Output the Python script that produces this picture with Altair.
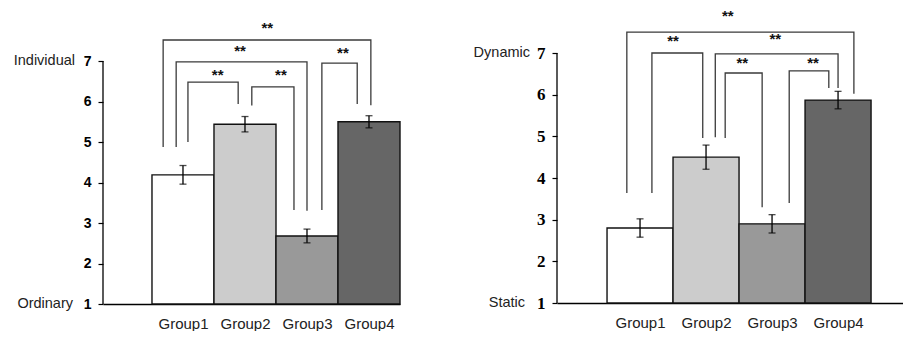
import altair as alt
import pandas as pd

groups = ["Group1", "Group2", "Group3", "Group4"]
positions = [1, 2, 3, 4]
colors = ["#ffffff", "#cccccc", "#999999", "#666666"]

left_means = [4.19, 5.44, 2.68, 5.50]
left_err = [0.23, 0.19, 0.17, 0.15]
right_means = [2.80, 4.50, 2.90, 5.87]
right_err = [0.22, 0.29, 0.22, 0.21]

# brackets: x_left, x_right, y_top, y_left_bottom, y_right_bottom, star_x, star_y
left_brackets = [
    [1.08, 1.89, 6.48, 5.00, 5.94, 1.56, 6.70],
    [2.11, 2.79, 6.36, 5.90, 3.32, 2.58, 6.70],
    [0.89, 3.00, 6.98, 4.88, 3.30, 1.92, 7.30],
    [3.24, 3.81, 6.95, 3.32, 5.94, 3.58, 7.25],
    [0.68, 4.03, 7.52, 4.88, 5.91, 2.36, 7.86],
]
right_brackets = [
    [1.18, 1.95, 7.00, 3.64, 4.96, 1.50, 7.34],
    [2.14, 4.00, 6.98, 4.98, 6.16, 3.05, 7.38],
    [2.29, 2.85, 6.52, 4.96, 3.30, 2.55, 6.81],
    [3.26, 3.86, 6.57, 3.40, 6.16, 3.62, 6.81],
    [0.80, 4.24, 7.50, 3.64, 6.02, 2.33, 7.94],
]

y_ticks = [1, 2, 3, 4, 5, 6, 7]


def panel(means, errs, xdom, ydom, width, height, brackets, labels, label_dx,
          tick_font, tick_size):
    xs = alt.Scale(domain=xdom, nice=False, zero=False)
    ys = alt.Scale(domain=ydom, nice=False, zero=False)
    df = pd.DataFrame({"group": groups, "pos": positions, "mean": means, "err": errs})
    base = alt.Chart(df).transform_calculate(
        x1="datum.pos - 0.5", x2="datum.pos + 0.5",
        lo="datum.mean - datum.err", hi="datum.mean + datum.err", b="1")
    label_expr = "[" + ",".join("'%s'" % g for g in groups) + "][datum.value - 1]"
    bars = base.mark_rect(stroke="#111", strokeWidth=1.4).encode(
        x=alt.X("x1:Q", scale=xs, title=None,
                axis=alt.Axis(values=positions, labelExpr=label_expr, ticks=False,
                              grid=False, domainColor="black", domainWidth=1.3,
                              labelFont="Liberation Sans", labelFontSize=15,
                              labelColor="#222", labelPadding=12)),
        x2="x2:Q",
        y=alt.Y("b:Q", scale=ys, title=None,
                axis=alt.Axis(values=y_ticks, grid=False, domain=False,
                              tickColor="black", tickSize=5, tickWidth=1.2,
                              labelFont=tick_font, labelFontWeight="bold",
                              labelFontSize=tick_size, labelColor="#000",
                              labelPadding=7)),
        y2="mean:Q",
        fill=alt.Fill("group:N", scale=alt.Scale(domain=groups, range=colors), legend=None),
    )
    stem = base.mark_rule(color="black", strokeWidth=1.3).encode(
        x=alt.X("pos:Q", scale=xs), y=alt.Y("lo:Q", scale=ys), y2="hi:Q")
    cap_lo = base.mark_tick(color="black", orient="horizontal", size=7, thickness=1.3).encode(
        x=alt.X("pos:Q", scale=xs), y=alt.Y("lo:Q", scale=ys))
    cap_hi = base.mark_tick(color="black", orient="horizontal", size=7, thickness=1.3).encode(
        x=alt.X("pos:Q", scale=xs), y=alt.Y("hi:Q", scale=ys))

    rows = []
    stars = []
    for i, (xl, xr, top, yl, yr, sx, sy) in enumerate(brackets):
        for k, (px, py) in enumerate([(xl, yl), (xl, top), (xr, top), (xr, yr)]):
            rows.append({"id": i, "k": k, "x": px, "y": py})
        stars.append({"x": sx, "y": sy, "t": "**"})
    br = alt.Chart(pd.DataFrame(rows)).mark_line(color="#3a3a3a", strokeWidth=1.3).encode(
        x=alt.X("x:Q", scale=xs), y=alt.Y("y:Q", scale=ys),
        detail="id:N", order="k:Q")
    st = alt.Chart(pd.DataFrame(stars)).mark_text(
        font="Liberation Sans", fontWeight="bold", fontSize=15, color="#111", baseline="middle",
        dy=2
    ).encode(x=alt.X("x:Q", scale=xs), y=alt.Y("y:Q", scale=ys), text="t:N")

    yaxis = alt.Chart(pd.DataFrame({"x": [xdom[0]], "y": [1], "y2": [7]})).mark_rule(
        color="black", strokeWidth=1.3).encode(
        x=alt.X("x:Q", scale=xs), y=alt.Y("y:Q", scale=ys), y2="y2:Q")

    layers = [bars, stem, cap_lo, cap_hi, br, st, yaxis]
    for (val, txt), dx in zip(labels, label_dx):
        layers.append(
            alt.Chart(pd.DataFrame({"x": [xdom[0]], "y": [val], "t": [txt]})).mark_text(
                font="Liberation Sans", fontSize=14.5, color="#222", align="right",
                baseline="middle", dx=dx).encode(
                x=alt.X("x:Q", scale=xs), y=alt.Y("y:Q", scale=ys), text="t:N"))
    return alt.layer(*layers).properties(width=width, height=height)


left = panel(left_means, left_err, [-0.29, 4.5], [1, 8.31], 297, 296, left_brackets,
             [(7, "Individual"), (1, "Ordinary")], [-28, -30], "Liberation Sans", 14)
right = panel(right_means, right_err, [-0.258, 4.984], [1, 8.08], 346, 295, right_brackets,
              [(7, "Dynamic"), (1, "Static")], [-27, -32], "Liberation Serif, DejaVu Serif, serif", 17)

chart = alt.hconcat(left, right, spacing=157, bounds="flush").properties(
    padding={"left": 5, "top": 0, "right": 0, "bottom": 0}
).configure(background="white", view=alt.ViewConfig(stroke=None))

chart.save("out.html", embed_options={"renderer": "svg", "actions": False})
